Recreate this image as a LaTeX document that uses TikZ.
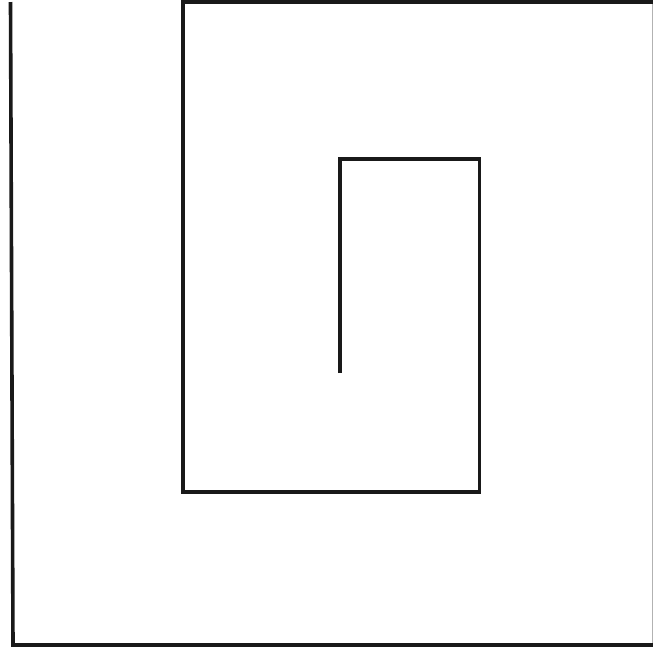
\documentclass[tikz,border=0pt]{standalone}
\begin{document}
\begin{tikzpicture}[x=1pt,y=-1pt,wall/.style={line width=3.6pt,black!90,line join=miter}]
\useasboundingbox (0,0) rectangle (653,657);
\fill[white] (0,0) rectangle (653,657);
% spiral
\draw[wall] (340,373) -- (340,159) -- (479.5,159) -- (479.5,492) -- (183,492) -- (183,2) -- (660,2);
% outer frame
\draw[wall] (10.5,2) -- (13,645) -- (660,645);
% faint right edge
\draw[black!30,line width=1.2pt] (652.6,4) -- (652.6,643);
\end{tikzpicture}
\end{document}
